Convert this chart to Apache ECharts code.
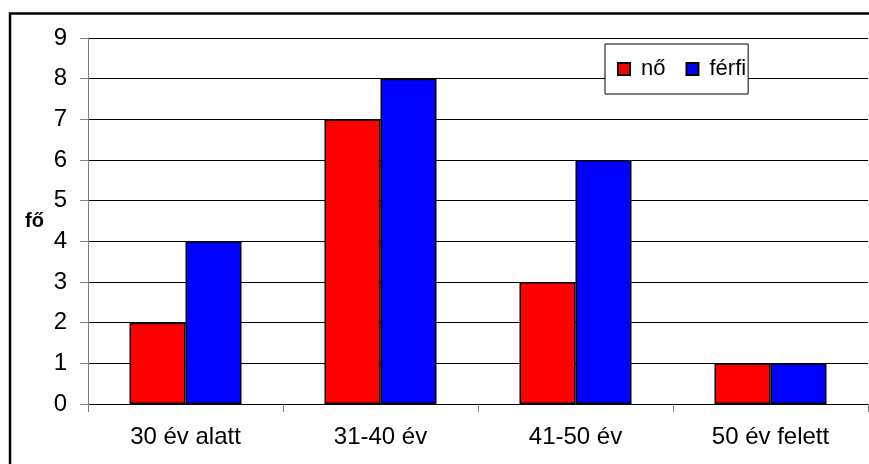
<!DOCTYPE html>
<html><head><meta charset="utf-8">
<script src="https://cdn.jsdelivr.net/npm/echarts@6/dist/echarts.min.js"></script>
<style>html,body{margin:0;padding:0;background:#fff}#c{width:869px;height:464px}</style>
</head><body><div id="c"></div>
<script>
const categories = ['30 év alatt', '31-40 év', '41-50 év', '50 év felett'];
const no = [2, 7, 3, 1];
const ferfi = [4, 8, 6, 1];
const yTicks = [0, 9, 1];
const FONT = '"Liberation Sans", Arial, sans-serif';
const chart = echarts.init(document.getElementById('c'), null, {renderer: 'canvas'});
chart.setOption({
  animation: false,
  backgroundColor: '#fff',
  textStyle: {fontFamily: FONT},
  grid: {left: 88, right: 1, top: 38, bottom: 60},
  graphic: [{
    type: 'rect', left: 7.5, top: 11, z: -1,
    shape: {x: 0, y: 0, width: 880, height: 480},
    style: {fill: 'none', stroke: '#000', lineWidth: 2.5}
  }],
  legend: {
    left: 605, top: 44,
    backgroundColor: '#fff', borderColor: '#000', borderWidth: 1,
    padding: [14, 2, 14, 12],
    itemWidth: 12, itemHeight: 12, itemGap: 20,
    icon: 'rect',
    textStyle: {fontFamily: FONT, fontSize: 22, color: '#000', padding: [0, 0, 0, 6]},
    data: ['nő', 'férfi']
  },
  xAxis: {
    type: 'category', data: categories, boundaryGap: true,
    axisLine: {lineStyle: {color: '#000', width: 1}},
    axisTick: {show: true, length: 8, lineStyle: {color: '#808080'}},
    axisLabel: {fontFamily: FONT, fontSize: 24, color: '#000', margin: 21}
  },
  yAxis: {
    type: 'value', min: yTicks[0], max: yTicks[1], interval: yTicks[2],
    name: 'fő', nameLocation: 'middle', nameRotate: 0, nameGap: 44,
    nameTextStyle: {fontFamily: FONT, fontSize: 20, fontWeight: 'bold', color: '#000'},
    axisLine: {show: true, lineStyle: {color: '#808080'}},
    axisTick: {show: true, length: 8, lineStyle: {color: '#808080'}},
    splitLine: {lineStyle: {color: '#000', width: 1}},
    axisLabel: {fontFamily: FONT, fontSize: 24, color: '#000', margin: 21}
  },
  series: [
    {name: 'nő', type: 'bar', data: no, barWidth: 56, barGap: '0%',
     itemStyle: {color: '#ff0000', borderColor: '#000', borderWidth: 1.5}},
    {name: 'férfi', type: 'bar', data: ferfi, barWidth: 56, barGap: '0%',
     itemStyle: {color: '#0000ff', borderColor: '#000', borderWidth: 1.5}}
  ]
});
</script></body></html>
